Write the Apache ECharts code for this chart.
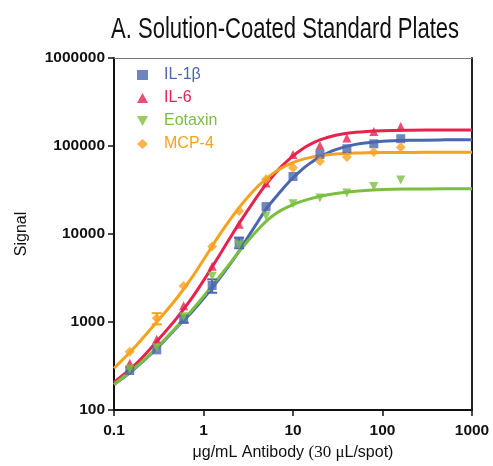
<!DOCTYPE html>
<html>
<head>
<meta charset="utf-8">
<script src="https://cdn.jsdelivr.net/npm/echarts@6/dist/echarts.min.js"></script>
<style>html,body{margin:0;padding:0;background:#fff;}#c{width:493px;height:466px;}</style>
</head>
<body>
<div id="c"></div>
<script>
// Measured data points (dose in ug/mL)
const doses   = [0.15, 0.3, 0.6, 1.25, 2.5, 5, 10, 20, 40, 80, 160];
const il1b    = [281, 482, 1081, 2600, 8000, 20500, 45000, 80000, 93000, 106000, 121000];
const il6     = [339, 636, 1528, 4300, 12900, 38000, 79800, 101000, 123000, 146000, 167000];
const eotaxin = [290, 510, 1150, 3300, 7500, 16000, 22000, 25600, 29200, 34600, 41100];
const mcp4    = [458, 1100, 2560, 7200, 18200, 41900, 56600, 67100, 75200, 85500, 96500];
// Error bar half-widths (0 = no visible bar)
const il1bErr = [0, 0, 100, 450, 1100, 0, 0, 0, 0, 0, 0];
const mcp4Err = [0, 160, 0, 0, 0, 0, 0, 0, 0, 0, 0];

// Fitted curves
const fitX       = [0.1, 0.15, 0.2, 0.3, 0.5, 0.75, 1, 1.5, 2, 2.5, 3, 4, 5, 6, 7.5, 10, 12.5, 15, 20, 30, 50, 100, 200, 500, 1000];
const il1bFit    = [195, 265, 340, 500, 860, 1320, 1850, 3100, 4600, 6400, 8600, 13500, 19200, 24200, 31700, 43500, 53600, 62200, 75300, 91000, 104300, 113000, 116200, 117500, 117800];
const il6Fit     = [207, 290, 380, 600, 1100, 1900, 2950, 5700, 9200, 13200, 17500, 27000, 36700, 46000, 59000, 77300, 91500, 102400, 117200, 132200, 143000, 149100, 151100, 151800, 152000];
const eotaxinFit = [195, 270, 345, 510, 880, 1380, 1950, 3250, 4700, 6300, 7900, 11000, 13900, 16200, 18800, 21600, 23500, 24900, 26800, 28900, 30700, 32000, 32400, 32600, 32600];
const mcp4Fit    = [298, 450, 620, 1000, 1850, 3250, 5100, 9690, 14740, 19950, 25000, 34400, 42350, 48860, 56400, 64770, 69970, 73350, 77370, 80860, 83040, 84190, 84550, 84700, 84700];

const xTickLabels = ['0.1', '1', '10', '100', '1000'];
const yTickLabels = ['100', '1000', '10000', '100000', '1000000'];

const names   = ['IL-1\u03b2', 'IL-6', 'Eotaxin', 'MCP-4'];
const colors  = ['#4a66b0', '#e8214f', '#7bbf3f', '#f7a21e'];
const symbols = ['rect', 'triangle', 'path://M0,0 L10,0 L5,9 Z', 'diamond'];
const pointSets = [il1b, il6, eotaxin, mcp4];
const fitSets   = [il1bFit, il6Fit, eotaxinFit, mcp4Fit];
const errSets   = [il1bErr, null, null, mcp4Err];

const pair = (xs, ys) => xs.map((x, i) => [x, ys[i]]);

const series = [];
names.forEach((n, i) => {
  series.push({
    name: n + ' fit', type: 'line', data: pair(fitX, fitSets[i]),
    smooth: 0.3, showSymbol: false, symbol: 'none',
    lineStyle: { color: colors[i], width: 3 }, z: 2 + i, silent: true
  });
});
names.forEach((n, i) => {
  if (!errSets[i]) return;
  const d = [];
  doses.forEach((x, k) => { if (errSets[i][k] > 0) d.push([x, pointSets[i][k] - errSets[i][k], pointSets[i][k] + errSets[i][k]]); });
  series.push({
    name: n + ' err', type: 'custom', data: d, z: 8, silent: true,
    renderItem: (params, api) => {
      const lo = api.coord([api.value(0), api.value(1)]);
      const hi = api.coord([api.value(0), api.value(2)]);
      const w = 5;
      const st = { stroke: colors[i], lineWidth: 2 };
      return { type: 'group', children: [
        { type: 'line', shape: { x1: lo[0], y1: lo[1], x2: hi[0], y2: hi[1] }, style: st },
        { type: 'line', shape: { x1: lo[0] - w, y1: lo[1], x2: lo[0] + w, y2: lo[1] }, style: st },
        { type: 'line', shape: { x1: hi[0] - w, y1: hi[1], x2: hi[0] + w, y2: hi[1] }, style: st }
      ] };
    }
  });
});
names.forEach((n, i) => {
  series.push({
    name: n, type: 'scatter', data: pair(doses, pointSets[i]),
    symbol: symbols[i], symbolSize: i === 3 ? 10 : 9,
    itemStyle: { color: colors[i] }, z: 10 + i
  });
});

const sans = 'Liberation Sans, Arial, Helvetica, sans-serif';

const chart = echarts.init(document.getElementById('c'), null, { renderer: 'canvas' });
chart.setOption({
  animation: false,
  backgroundColor: '#fff',
  graphic: [{
    type: 'text', x: 111, y: 30, scaleX: 0.735, scaleY: 1, silent: true,
    style: {
      text: 'A. Solution-Coated Standard Plates',
      font: 'normal 30px "Liberation Sans", Arial, sans-serif',
      fill: '#111', textAlign: 'left', textVerticalAlign: 'middle'
    }
  }],
  legend: {
    orient: 'vertical', left: 132, top: 62, itemGap: 7,
    itemWidth: 11, itemHeight: 10,
    data: names.map((n, i) => ({ name: n, icon: symbols[i], itemStyle: { color: colors[i] }, textStyle: { color: colors[i] } })),
    textStyle: { fontFamily: sans, fontSize: 16, padding: [0, 0, 0, 11] }
  },
  grid: { left: 114, right: 21, top: 58, bottom: 51, containLabel: false },
  xAxis: [{
    type: 'log', logBase: 10, min: 0.1, max: 1000,
    name: '{a|\u03bcg/mL Antibody }{b|(30 \u03bc}{a|L/spot)}',
    nameLocation: 'middle', nameGap: 34,
    nameTextStyle: { rich: {
      a: { fontFamily: sans, fontSize: 16, color: '#111' },
      b: { fontFamily: 'Liberation Serif, Times New Roman, serif', fontSize: 17, color: '#111' }
    } },
    axisLine: { lineStyle: { color: '#111', width: 2 } },
    axisTick: { show: true, length: 6, lineStyle: { color: '#111', width: 1.5 } },
    minorTick: { show: false },
    splitLine: { show: false },
    axisLabel: {
      margin: 13, fontFamily: sans, fontSize: 15.5, fontWeight: 'bold', color: '#111',
      formatter: v => xTickLabels[Math.round(Math.log10(v)) + 1]
    }
  }, {
    type: 'log', logBase: 10, min: 0.1, max: 1000, position: 'top',
    axisLine: { show: true, lineStyle: { color: '#777', width: 1 } },
    axisTick: { show: false }, axisLabel: { show: false }, splitLine: { show: false }
  }],
  yAxis: [{
    type: 'log', logBase: 10, min: 100, max: 1000000,
    name: 'Signal', nameLocation: 'middle', nameGap: 84,
    nameTextStyle: { fontFamily: sans, fontSize: 16, color: '#111' },
    axisLine: { lineStyle: { color: '#111', width: 2 } },
    axisTick: { show: true, length: 6, lineStyle: { color: '#111', width: 1.5 } },
    splitLine: { show: false },
    axisLabel: {
      margin: 9, fontFamily: sans, fontSize: 15.5, fontWeight: 'bold', color: '#111',
      formatter: v => yTickLabels[Math.round(Math.log10(v)) - 2]
    }
  }, {
    type: 'log', logBase: 10, min: 100, max: 1000000, position: 'right',
    axisLine: { show: true, lineStyle: { color: '#222', width: 2 } },
    axisTick: { show: false }, axisLabel: { show: false }, splitLine: { show: false }
  }],
  series: series
});
</script>
</body>
</html>
